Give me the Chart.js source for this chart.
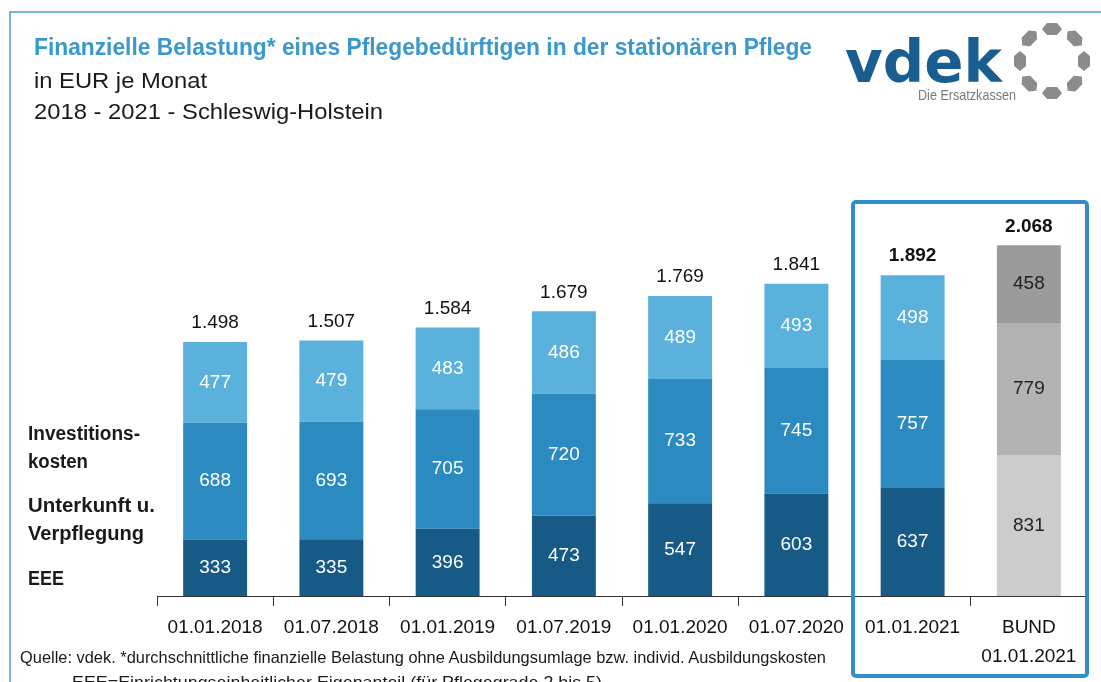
<!DOCTYPE html>
<html>
<head>
<meta charset="utf-8">
<script src="https://cdn.jsdelivr.net/npm/chart.js@4"></script>
<style>
  html, body { margin: 0; padding: 0; background: #fff; }
  #wrap { position: relative; width: 1101px; height: 682px; overflow: hidden; }
  #chartBox { position: absolute; left: 0; top: 0; width: 1101px; height: 682px; }
  svg { position: absolute; left: 0; top: 0; pointer-events: none; }
  svg text { font-family: "Liberation Sans", Arial, sans-serif; }
</style>
</head>
<body>
<div id="wrap">
  <div id="chartBox"><canvas id="pflegeChart"></canvas></div>
  <svg width="1101" height="682" viewBox="0 0 1101 682">
    <!-- Rahmen -->
    <path d="M10 682 L10 12 L1101 12" fill="none" stroke="#4b9fd2" stroke-width="1.5"/>
    <!-- Titel -->
    <text x="34" y="55" font-size="23" font-weight="bold" fill="#3a98cb" textLength="778" lengthAdjust="spacingAndGlyphs">Finanzielle Belastung* eines Pflegebedürftigen in der stationären Pflege</text>
    <text x="34" y="88" font-size="22" fill="#1a1a1a" textLength="173" lengthAdjust="spacingAndGlyphs">in EUR je Monat</text>
    <text x="34" y="119" font-size="22" fill="#1a1a1a" textLength="349" lengthAdjust="spacingAndGlyphs">2018 - 2021 - Schleswig-Holstein</text>
    <!-- Logo -->
    <text x="845" y="82" font-size="58" font-weight="bold" fill="#1a5e91" style="font-family:'DejaVu Sans', sans-serif" textLength="157" lengthAdjust="spacingAndGlyphs">vdek</text>
    <text x="918" y="100" font-size="15" fill="#7a7a7a" textLength="98" lengthAdjust="spacingAndGlyphs">Die Ersatzkassen</text>
    <g id="ring" fill="#8c8c8c"></g>
    <!-- Legende links -->
    <g font-size="20" font-weight="bold" fill="#1a1a1a">
      <text x="28" y="440" textLength="112" lengthAdjust="spacingAndGlyphs">Investitions-</text>
      <text x="28" y="468" textLength="60" lengthAdjust="spacingAndGlyphs">kosten</text>
      <text x="28" y="512" textLength="127" lengthAdjust="spacingAndGlyphs">Unterkunft u.</text>
      <text x="28" y="540" textLength="116" lengthAdjust="spacingAndGlyphs">Verpflegung</text>
      <text x="28" y="585" textLength="36" lengthAdjust="spacingAndGlyphs">EEE</text>
    </g>
    <!-- Fussnote -->
    <text x="20" y="663" font-size="16.5" fill="#1a1a1a" textLength="806" lengthAdjust="spacingAndGlyphs">Quelle: vdek. *durchschnittliche finanzielle Belastung ohne Ausbildungsumlage bzw. individ. Ausbildungskosten</text>
    <text x="72" y="688" font-size="16.5" fill="#1a1a1a" textLength="530" lengthAdjust="spacingAndGlyphs">EEE=Einrichtungseinheitlicher Eigenanteil (für Pflegegrade 2 bis 5)</text>
    <!-- Markierung 2021 / Bund -->
    <rect x="853" y="202" width="234" height="474" rx="3" fill="none" stroke="#2f8fc6" stroke-width="4"/>
  </svg>
</div>
<script>
// Stichtage
const labels = ['01.01.2018', '01.07.2018', '01.01.2019', '01.07.2019', '01.01.2020', '01.07.2020', '01.01.2021', ['BUND', '01.01.2021']];
// Eigenanteile in EUR je Monat
const eee = [333, 335, 396, 473, 547, 603, 637, 831];
const unterkunft = [688, 693, 705, 720, 733, 745, 757, 779];
const investition = [477, 479, 483, 486, 489, 493, 498, 458];
const gesamt = [1498, 1507, 1584, 1679, 1769, 1841, 1892, 2068];

const FONT = '"Liberation Sans", Arial, sans-serif';

// Logo-Ring aus 8 Punkten
const ring = document.getElementById('ring');
for (let k = 0; k < 8; k++) {
  const a = k * Math.PI / 4;
  const cx = 1052 + Math.sin(a) * 32, cy = 61 - Math.cos(a) * 32;
  const pts = [[-10, 0], [-5, -6], [5, -6], [10, 0], [5, 6], [-5, 6]].map(p => {
    const x = p[0] * Math.cos(a) - p[1] * Math.sin(a);
    const y = p[0] * Math.sin(a) + p[1] * Math.cos(a);
    return (cx + x).toFixed(1) + ',' + (cy + y).toFixed(1);
  });
  const poly = document.createElementNS('http://www.w3.org/2000/svg', 'polygon');
  poly.setAttribute('points', pts.join(' '));
  ring.appendChild(poly);
}

const fmt = v => v.toLocaleString('de-DE');

const valueLabels = {
  id: 'valueLabels',
  afterDatasetsDraw(chart) {
    const ctx = chart.ctx;
    ctx.save();
    ctx.textAlign = 'center';
    ctx.textBaseline = 'middle';
    chart.data.datasets.forEach((ds, i) => {
      chart.getDatasetMeta(i).data.forEach((bar, j) => {
        ctx.font = '19px ' + FONT;
        ctx.fillStyle = j === 7 ? '#222' : '#fff';
        ctx.fillText(ds.data[j], bar.x, (bar.y + bar.base) / 2);
      });
    });
    const tops = chart.getDatasetMeta(2).data;
    gesamt.forEach((t, j) => {
      ctx.font = (j >= 6 ? 'bold ' : '') + '19px ' + FONT;
      ctx.fillStyle = '#111';
      ctx.fillText(fmt(t), tops[j].x, tops[j].y - 19);
    });
    ctx.restore();
  }
};

new Chart(document.getElementById('pflegeChart'), {
  type: 'bar',
  data: {
    labels: labels,
    datasets: [
      { label: 'EEE', data: eee, backgroundColor: ['#175a86', '#175a86', '#175a86', '#175a86', '#175a86', '#175a86', '#175a86', '#cccccc'] },
      { label: 'Unterkunft u. Verpflegung', data: unterkunft, backgroundColor: ['#2b8abf', '#2b8abf', '#2b8abf', '#2b8abf', '#2b8abf', '#2b8abf', '#2b8abf', '#b3b3b3'] },
      { label: 'Investitionskosten', data: investition, backgroundColor: ['#5ab1dc', '#5ab1dc', '#5ab1dc', '#5ab1dc', '#5ab1dc', '#5ab1dc', '#5ab1dc', '#9b9b9b'] }
    ]
  },
  options: {
    responsive: true,
    maintainAspectRatio: false,
    animation: false,
    layout: { padding: { left: 157, right: 14, top: 189, bottom: 3 } },
    plugins: { legend: { display: false }, tooltip: { enabled: false } },
    datasets: { bar: { categoryPercentage: 1, barPercentage: 0.55 } },
    scales: {
      x: {
        stacked: true,
        grid: { drawOnChartArea: false, drawTicks: true, tickLength: 10, color: '#333', lineWidth: 1 },
        border: { display: true, color: '#333', width: 1 },
        ticks: { color: '#111', padding: 8, font: { family: FONT, size: 19, lineHeight: 1.5 }, maxRotation: 0, autoSkip: false }
      },
      y: { stacked: true, display: false, min: 0, max: 2400 }
    }
  },
  plugins: [valueLabels]
});
</script>
</body>
</html>
